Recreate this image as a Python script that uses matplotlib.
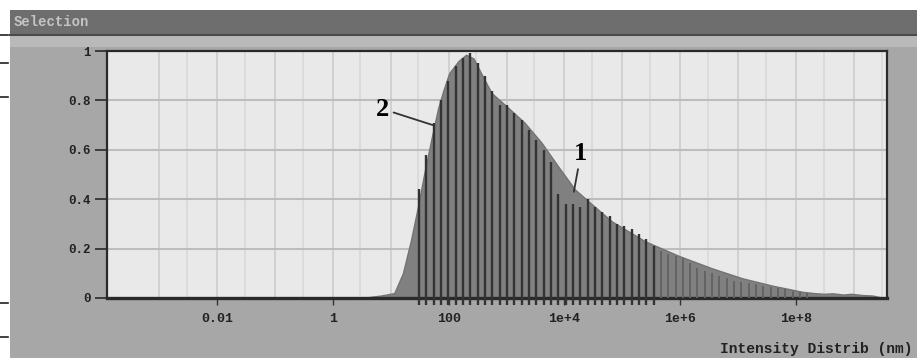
import matplotlib
matplotlib.use("Agg")
import matplotlib.pyplot as plt
from matplotlib.patches import Rectangle
from matplotlib.lines import Line2D

# ---------------- data ----------------
# curve 1: filled intensity distribution (size in nm, relative intensity)
fill_size = [3.1, 6.8, 11.5, 16.2, 22.4, 29.5, 38, 50, 66, 81, 102, 148, 200, 269,
             363, 550, 1070, 2040, 3980, 7940, 15100, 29500, 66000, 245000, 955000,
             3.55e6, 1.17e7, 3.9e7, 1.29e8, 2.0e8, 3.0e8, 4.3e8, 6.5e8, 9.0e8,
             1.4e9, 2.1e9, 3.2e9]
fill_val = [0.0, 0.01, 0.02, 0.10, 0.235, 0.37, 0.505, 0.64, 0.77, 0.84, 0.91, 0.96,
            0.985, 0.97, 0.91, 0.83, 0.77, 0.71, 0.63, 0.53, 0.44, 0.38, 0.31, 0.23,
            0.17, 0.12, 0.08, 0.05, 0.025, 0.02, 0.017, 0.019, 0.014, 0.017, 0.012,
            0.01, 0.0]

# curve 2: stem (bar) distribution
stem_size = [30.9, 41.4, 55.3, 74.1, 99.1, 132.7, 177.5, 237.6, 317.7, 425.3, 568.9,
             761.5, 1018.6, 1364.6, 1823.9, 2443.4, 3265.6, 4375.2, 5848, 7834, 10471,
             14028, 18750, 25119, 33574, 44978, 60117, 80538, 107647, 144212, 192752,
             258226, 345144, 462381, 618016, 827942, 1.107e6, 1.483e6, 1.982e6,
             2.655e6, 3.548e6, 4.753e6, 6.353e6, 8.511e6, 1.138e7, 1.524e7, 2.037e7,
             2.729e7, 3.648e7, 4.887e7, 6.531e7, 8.750e7, 1.169e8, 1.567e8]
stem_val = [0.44, 0.58, 0.71, 0.80, 0.88, 0.94, 0.97, 0.99, 0.95, 0.90, 0.84, 0.78,
            0.78, 0.75, 0.72, 0.68, 0.64, 0.60, 0.55, 0.42, 0.38, 0.38, 0.37, 0.40,
            0.37, 0.35, 0.33, 0.30, 0.29, 0.28, 0.26, 0.24, 0.21, 0.19, 0.18, 0.17,
            0.16, 0.14, 0.12, 0.11, 0.10, 0.09, 0.08, 0.07, 0.065, 0.06, 0.055, 0.05,
            0.045, 0.04, 0.035, 0.03, 0.025, 0.02]

x_ticks = [0.01, 1, 100, 1e4, 1e6, 1e8]
x_ticklabels = ["0.01", "1", "100", "1e+4", "1e+6", "1e+8"]
y_ticks = [0, 0.2, 0.4, 0.6, 0.8, 1]
y_ticklabels = ["0", "0.2", "0.4", "0.6", "0.8", "1"]
title_text = "Selection"
x_label = "Intensity Distrib (nm)"
labels = ["1", "2"]

# ---------------- figure ----------------
W, H = 917, 358
fig = plt.figure(figsize=(W / 100, H / 100), dpi=100)
fig.patch.set_facecolor("white")

def fx(px):
    return px / W

def fy(py):
    return 1 - py / H

# window chrome
fig.patches.append(Rectangle((fx(10), 0), 1 - fx(10), fy(10), transform=fig.transFigure,
                             facecolor="#a7a7a7", edgecolor="none", zorder=-10))
fig.patches.append(Rectangle((fx(10), fy(35)), 1 - fx(10), fy(10) - fy(35),
                             transform=fig.transFigure, facecolor="#6e6e6e",
                             edgecolor="none", zorder=-9))
fig.patches.append(Rectangle((fx(10), fy(47)), 1 - fx(10), fy(35) - fy(47),
                             transform=fig.transFigure, facecolor="#b9b9b9",
                             edgecolor="none", zorder=-9))
fig.lines.append(Line2D([fx(10), 1], [fy(35), fy(35)], transform=fig.transFigure,
                        color="#4a4a4a", lw=1.5))
fig.text(fx(14), fy(22), title_text, color="#c4c4c4", fontsize=10,
         family="Liberation Mono", fontweight="bold", va="center", ha="left")

# scan margin marks on far left
for yy in [35, 63, 97, 303, 337]:
    fig.lines.append(Line2D([fx(0), fx(8)], [fy(yy), fy(yy)], transform=fig.transFigure,
                            color="#222222", lw=1.2))

ax = fig.add_axes([fx(107), fy(298), fx(887) - fx(107), fy(51) - fy(298)])
ax.set_facecolor("#e9e9e9")
ax.set_xscale("log")
ax.set_xlim(10 ** -3.9, 10 ** 9.57)
ax.set_ylim(0, 1)

# grid
for d in range(-3, 10):
    for m in [1, 3]:
        ax.axvline(m * 10.0 ** d, color="#cdcdcd" if m == 1 else "#d9d9d9", lw=1.2,
                   zorder=0)
for yv in [0.2, 0.4, 0.6, 0.8]:
    ax.axhline(yv, color="#bdbdbd", lw=1.5, zorder=0.5)

# curve 1 (filled)
ax.fill_between(fill_size, fill_val, 0, color="#808080", edgecolor="#737373", lw=1,
                zorder=2)

# curve 2 (stems)
dark_n = 33
ax.vlines(stem_size[:dark_n], -0.03, stem_val[:dark_n], color="#333333", lw=1.7,
          zorder=3, clip_on=False)
ax.vlines(stem_size[dark_n:], 0, stem_val[dark_n:], color="#646464", lw=1.4, zorder=3)

# annotations
ax.annotate(labels[1], xy=(10 ** ((433 - 333) / 57.9), 0.70),
            xytext=(10 ** ((383 - 333) / 57.9), 0.765), fontsize=19,
            family="Liberation Serif", fontweight="bold", ha="center", va="center",
            arrowprops=dict(arrowstyle="-", color="#333333", lw=1.3,
                            shrinkA=1, shrinkB=0), zorder=5)
ax.annotate(labels[0], xy=(10 ** ((574 - 333) / 57.9), 0.43),
            xytext=(10 ** ((581 - 333) / 57.9), 0.585), fontsize=19,
            family="Liberation Serif", fontweight="bold", ha="center", va="center",
            arrowprops=dict(arrowstyle="-", color="#333333", lw=1.3,
                            shrinkA=1, shrinkB=0), zorder=5)

# axes styling
for s in ["left", "top", "right"]:
    ax.spines[s].set_color("#2a2a2a")
    ax.spines[s].set_linewidth(1.6)
ax.spines["bottom"].set_color("#2a2a2a")
ax.spines["bottom"].set_linewidth(2.4)

ax.set_xticks(x_ticks)
ax.set_xticklabels(x_ticklabels)
ax.set_yticks(y_ticks)
ax.set_yticklabels(y_ticklabels)
ax.minorticks_off()
ax.tick_params(axis="x", direction="out", length=5, width=1, color="#333333",
               pad=6, labelsize=9.5, labelcolor="#222222")
ax.tick_params(axis="y", direction="out", length=9, width=1.3, color="#333333",
               pad=3, labelsize=9, labelcolor="#222222")
for lab in ax.get_xticklabels() + ax.get_yticklabels():
    lab.set_family("Liberation Mono")
    lab.set_fontweight("bold")

fig.text(fx(913), fy(349), x_label, fontsize=10.5, family="Liberation Mono",
         fontweight="bold", color="#222222", ha="right", va="center")

fig.savefig("out.png", dpi=100, facecolor=fig.get_facecolor())
